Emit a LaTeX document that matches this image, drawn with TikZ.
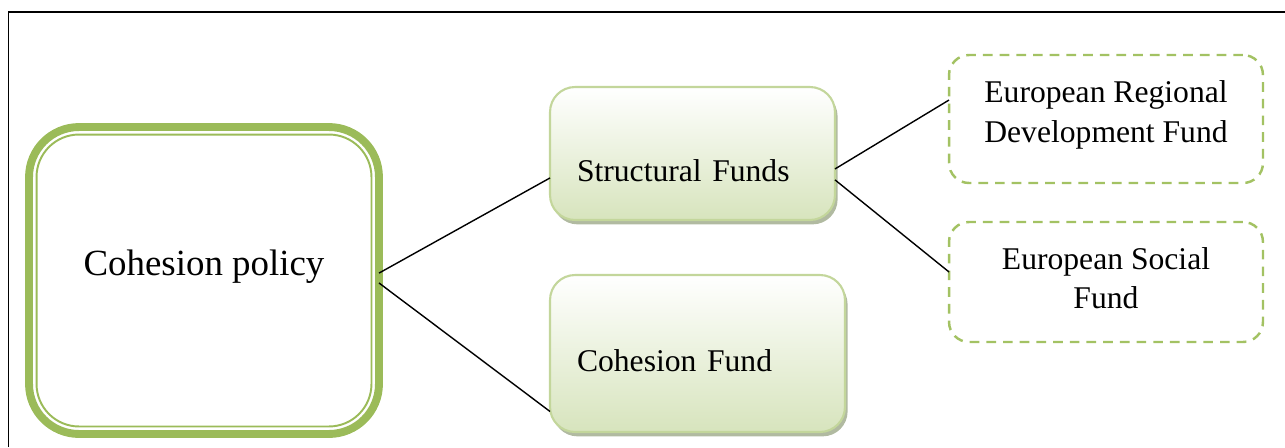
\documentclass[tikz,border=0pt]{standalone}
\usepackage{fontspec}
\setmainfont{Liberation Serif}
\usetikzlibrary{positioning, shadows}

\definecolor{policygreen}{HTML}{9BBB59}
\definecolor{fundline}{HTML}{C3D69B}
\definecolor{fundfill}{HTML}{D7E4BD}
\definecolor{fundshadow}{HTML}{9DA98A}
\definecolor{dashgreen}{HTML}{A3C263}

\begin{document}
\begin{tikzpicture}[
      x=0.02cm, y=-0.02cm,
      every node/.style={outer sep=0pt},
      policy/.style={rectangle, rounded corners=1cm, draw=policygreen, line width=4.5pt,
        minimum width=7cm, minimum height=6.14cm, inner sep=0pt,
        font=\fontsize{21pt}{25pt}\selectfont},
      fundbox/.style={rectangle, rounded corners=0.5cm, draw=fundline, line width=1.2pt,
        top color=white, bottom color=fundfill,
        drop shadow={shadow xshift=1.5pt, shadow yshift=-2.5pt, fill=fundshadow, opacity=0.8},
        inner ysep=0pt, inner xsep=0.54cm, align=left,
        font=\fontsize{18pt}{22.7pt}\selectfont},
      subfund/.style={rectangle, rounded corners=0.4cm, draw=dashgreen, line width=1.4pt,
        dash pattern=on 5.5pt off 4pt, minimum width=6.28cm, align=center,
        font=\fontsize{18pt}{22.7pt}\selectfont},
      link/.style={black, line width=0.8pt}
    ]
      \useasboundingbox (0,0) rectangle (1285,447);
      \draw[line width=1.1pt] (8.5,447) -- (8.5,12.3) -- (1285,12.3);

      \node[policy, text height=2.96cm, text depth=3.18cm] (policy) at (204,280.5) {Cohesion policy};
      \draw[policygreen, line width=1.1pt, rounded corners=0.85cm]
        ([shift={(7.5,7.5)}]policy.north west) rectangle ([shift={(-7.5,-7.5)}]policy.south east);

      \node[fundbox, text width=4.62cm, text height=1.88cm, text depth=0.78cm] (structural) at (692.5,153.5) {Structural Funds};
      \node[fundbox, text width=4.82cm, text height=1.92cm, text depth=1.22cm] (cohesion) at (697.5,353.5) {Cohesion Fund};

      \node[subfund, minimum height=2.56cm, text depth=0.3cm] (regional) at (1106,119) {European Regional\\Development Fund};
      \node[subfund, minimum height=2.4cm, text depth=0.16cm] (social) at (1106,282) {European Social\\Fund};

      \draw[link] ([yshift=4.2pt]policy.east) -- ([yshift=-13.9pt]structural.west);
      \draw[link] ([yshift=-1.4pt]policy.east) -- ([yshift=-33pt]cohesion.west);
      \draw[link] ([yshift=-8.8pt]structural.east) -- ([yshift=10.8pt]regional.west);
      \draw[link] ([yshift=-15pt]structural.east) -- ([yshift=5.7pt]social.west);
    \end{tikzpicture}
\end{document}
